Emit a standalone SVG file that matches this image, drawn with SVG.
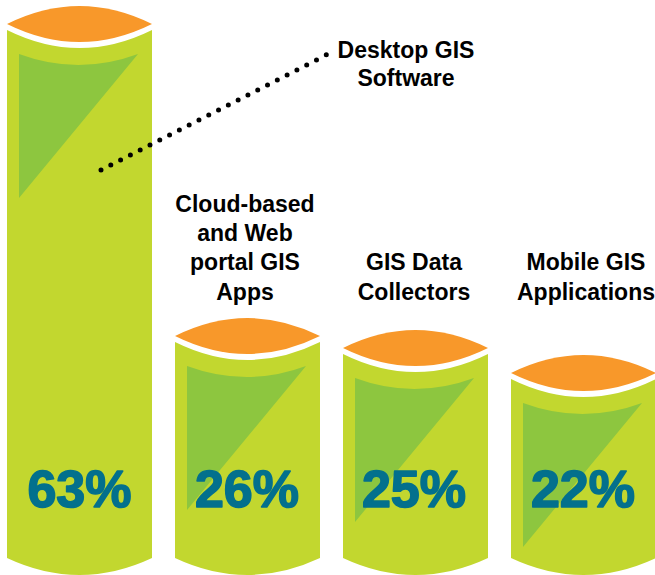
<svg xmlns="http://www.w3.org/2000/svg" xmlns:xlink="http://www.w3.org/1999/xlink" width="655" height="575" viewBox="0 0 655 575">
<style>
.body{fill:#c2d72f}
.lens{fill:#f8982a}
.tri{fill:#8dc63f}
.pct{font-family:"Liberation Sans",Arial,sans-serif;font-weight:bold;font-size:52px;fill:#03708d;stroke:#03708d;stroke-width:1.6;stroke-linejoin:round;text-anchor:middle}
.lbl{font-family:"Liberation Sans",Arial,sans-serif;font-weight:bold;font-size:23px;fill:#000;text-anchor:middle}
.dots{fill:none;stroke:#000;stroke-width:5;stroke-linecap:round;stroke-dasharray:0 11}
</style>
<defs>
<path id="lensShape" class="lens" d="M0,0 Q72.5,-36 145,0 Q72.5,36 0,0 Z"/>
<path id="triShape" class="tri" d="M12,30 Q71.5,52 131,30 L12,174 Z"/>
</defs>
<rect width="655" height="575" fill="#fff"/>
<g id="cyl-desktop">
<path class="body" d="M7,30 Q79.5,66 152,30 L152,558 Q79.5,592 7,558 Z"/>
<use xlink:href="#lensShape" href="#lensShape" transform="translate(7,24)"/>
<use xlink:href="#triShape" href="#triShape" transform="translate(7,24)"/>
<text class="pct" x="79.5" y="507">63%</text>
<text class="lbl" x="406" y="58">Desktop GIS</text>
<text class="lbl" x="406" y="86">Software</text>
</g>
<g id="cyl-cloud">
<path class="body" d="M175,342 Q247.5,378 320,342 L320,558 Q247.5,592 175,558 Z"/>
<use xlink:href="#lensShape" href="#lensShape" transform="translate(175,336)"/>
<use xlink:href="#triShape" href="#triShape" transform="translate(175,336)"/>
<text class="pct" x="247" y="507">26%</text>
<text class="lbl" x="245" y="212">Cloud-based</text>
<text class="lbl" x="245" y="241">and Web</text>
<text class="lbl" x="245" y="270">portal GIS</text>
<text class="lbl" x="245" y="300">Apps</text>
</g>
<g id="cyl-collectors">
<path class="body" d="M343,354 Q415.5,390 488,354 L488,558 Q415.5,592 343,558 Z"/>
<use xlink:href="#lensShape" href="#lensShape" transform="translate(343,348)"/>
<use xlink:href="#triShape" href="#triShape" transform="translate(343,348)"/>
<text class="pct" x="414" y="507">25%</text>
<text class="lbl" x="414" y="270">GIS Data</text>
<text class="lbl" x="414" y="300">Collectors</text>
</g>
<g id="cyl-mobile">
<path class="body" d="M511,379 Q583.5,415 656,379 L656,558 Q583.5,592 511,558 Z"/>
<use xlink:href="#lensShape" href="#lensShape" transform="translate(511,373)"/>
<use xlink:href="#triShape" href="#triShape" transform="translate(511,373)"/>
<text class="pct" x="583" y="507">22%</text>
<text class="lbl" x="586" y="270">Mobile GIS</text>
<text class="lbl" x="586" y="300">Applications</text>
</g>
<g id="connectors">
<path class="dots" d="M101,170 L328,54"/>
</g>
</svg>
